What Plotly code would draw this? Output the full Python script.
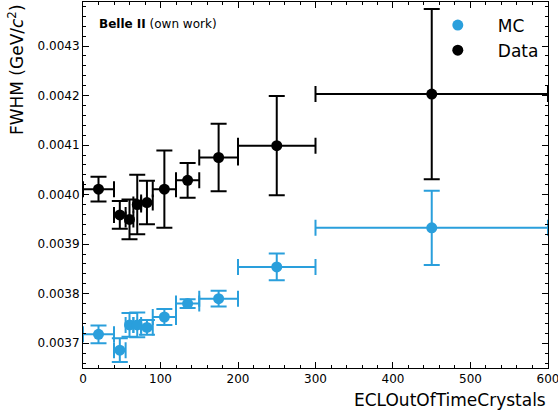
import plotly.graph_objects as go

# Bin centres and half-widths (ECLOutOfTimeCrystals)
x_centers = [20, 47.5, 60, 70, 82.5, 105, 135, 175, 250, 450]
x_halfw = [20, 7.5, 5, 5, 7.5, 15, 15, 25, 50, 150]

mc_fwhm = [0.003718, 0.003686, 0.003737, 0.003737, 0.003732, 0.003753, 0.003780, 0.003790, 0.003854, 0.003933]
mc_err = [0.000018, 0.000024, 0.000024, 0.000025, 0.000015, 0.000016, 0.000009, 0.000016, 0.000027, 0.000075]

data_fwhm = [0.004011, 0.003959, 0.003950, 0.003980, 0.003984, 0.004011, 0.004029, 0.004075, 0.004099, 0.004203]
data_err = [0.000025, 0.000028, 0.000040, 0.000060, 0.000044, 0.000078, 0.000035, 0.000068, 0.000100, 0.000172]

MC_COLOR = "#2a9fdc"
FONT = "DejaVu Sans"

fig = go.Figure()
for name, yv, ye, col in [("MC", mc_fwhm, mc_err, MC_COLOR), ("Data", data_fwhm, data_err, "black")]:
    fig.add_trace(go.Scatter(
        x=x_centers, y=yv, name=name, mode="markers",
        marker=dict(color=col, size=11, symbol="circle"),
        error_y=dict(type="data", array=ye, visible=True, color=col, thickness=2, width=8),
        error_x=dict(type="data", array=x_halfw, visible=True, color=col, thickness=2, width=8),
    ))

axis_common = dict(
    showline=True, linecolor="black", linewidth=1, mirror="allticks",
    ticks="inside", ticklen=6, tickwidth=1, tickcolor="black",
    showgrid=False, zeroline=False, automargin=False,
    tickfont=dict(family=FONT, size=12, color="black"),
)

fig.update_xaxes(range=[0, 600.01], tickvals=[0, 100, 200, 300, 400, 500, 600],
                 ticklabeloverflow="allow",
                 minor=dict(ticks="inside", ticklen=3, dtick=20, tick0=0, tickcolor="black", showgrid=False),
                 **axis_common)
fig.update_yaxes(range=[0.00365, 0.004389], dtick=0.0001, tick0=0.0037, tickformat=".4f",
                 minor=dict(ticks="inside", ticklen=3, dtick=0.00002, tickcolor="black", showgrid=False),
                 **axis_common)

fig.add_annotation(text="ECLOutOfTimeCrystals", xref="paper", yref="paper", x=1, y=-0.056,
                   xanchor="right", yanchor="top", showarrow=False,
                   font=dict(family=FONT, size=17, color="black"))
fig.add_annotation(text="FWHM (GeV/<i>c</i><sup>2</sup>)", xref="paper", yref="paper", x=-0.145, y=1.0,
                   xanchor="center", yanchor="top", textangle=-90, showarrow=False,
                   font=dict(family=FONT, size=17, color="black"))
fig.add_annotation(text="<b>Belle II</b> (own work)", xref="paper", yref="paper", x=0.03, y=0.965,
                   xanchor="left", yanchor="top", showarrow=False,
                   font=dict(family=FONT, size=12, color="black"))

fig.update_layout(
    width=558, height=414,
    margin=dict(l=83, r=10, t=2, b=46, autoexpand=False),
    paper_bgcolor="white", plot_bgcolor="white",
    font=dict(family=FONT, color="black"),
    legend=dict(x=0.72, y=0.985, xanchor="left", yanchor="top",
                font=dict(family=FONT, size=17, color="black"),
                bgcolor="rgba(255,255,255,0)", borderwidth=0, itemwidth=70),
)

fig.write_html("out.html")
